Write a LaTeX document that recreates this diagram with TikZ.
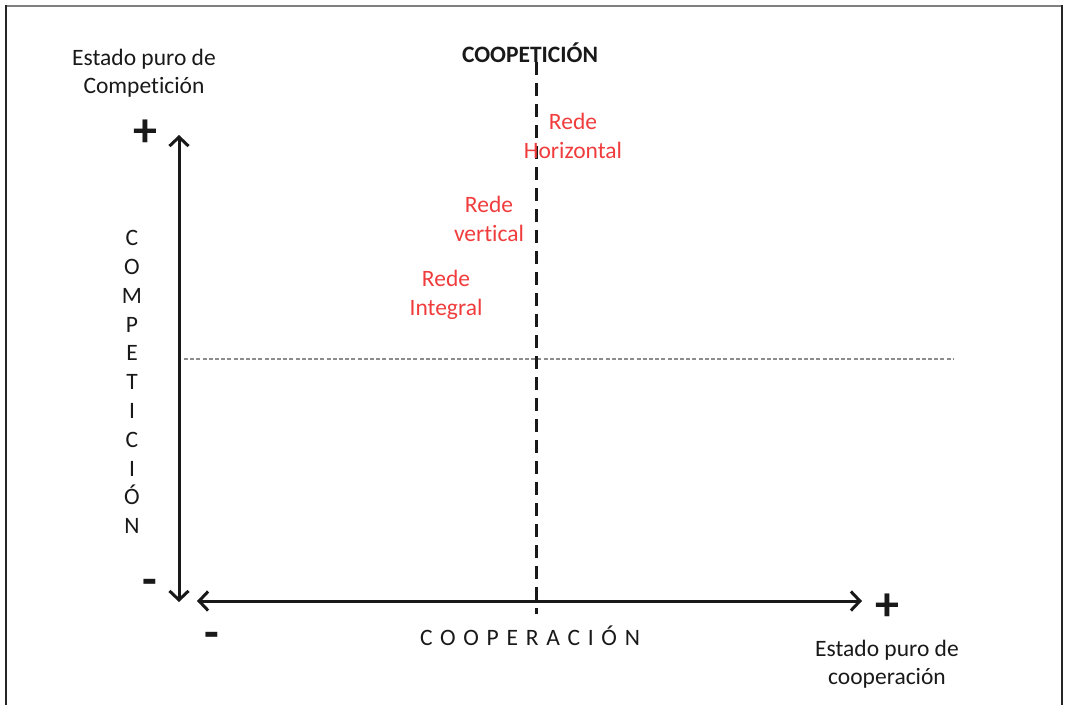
\documentclass[tikz,border=0pt]{standalone}
\usepackage{fontspec}
\setmainfont{Carlito}[Ligatures=NoCommon]
\usetikzlibrary{arrows.meta}
\definecolor{redtxt}{RGB}{240,60,60}
\definecolor{txt}{RGB}{25,25,25}
\tikzset{
  lbl/.style={align=center, text=txt, inner sep=0pt, font=\fontsize{23.5}{28.5}\selectfont},
  redlbl/.style={align=center, text=redtxt, inner sep=0pt, font=\fontsize{23.5}{28.5}\selectfont},
  sign/.style={text=txt, inner sep=0pt, font=\fontsize{48}{48}\selectfont\bfseries},
  axis/.style={draw=txt, line width=3pt, {Straight Barb[length=9pt,width=19pt,line width=3pt]}-{Straight Barb[length=9pt,width=19pt,line width=3pt]}},
}
\begin{document}
\begin{tikzpicture}[x=1pt,y=-1pt]
\useasboundingbox (0,0) rectangle (1065,704);
% frame
\draw[line width=2pt, draw=gray] (5,6) -- (1062,6);
\draw[line width=2pt, draw=black!85] (5.5,5) -- (5.5,710);
\draw[line width=2pt, draw=black!85] (1062,5) -- (1062,710);

% axes
\coordinate (vtop) at (179,135);
\coordinate (vbot) at (179,602);
\coordinate (hleft) at (197,601);
\coordinate (hright) at (862,601);
\coordinate (dtop) at (536,62);
\coordinate (dbot) at (536,614);
\coordinate (gleft) at (184,359);
\coordinate (gright) at (953,359);

\draw[draw=gray!90, line width=1.3pt, dash pattern=on 4pt off 2.2pt] (gleft) -- (gright);
\draw[draw=txt, line width=3pt, dash pattern=on 13pt off 8pt] (dtop) -- (dbot);
\draw[axis] (vtop) -- (vbot);
\draw[axis] (hleft) -- (hright);

% texts
\node[lbl] (estcomp) at (144,73) {Estado puro de\\Competición};
\node[sign] (plusv) at (145,133) {+};
\node[lbl, font=\fontsize{23.5}{28.5}\selectfont\bfseries] (coopet) at (530,53) {COOPETICIÓN};
\node[redlbl] (rh) at (573,136) {Rede\\Horizontal};
\node[redlbl] (rv) at (489,219) {Rede\\vertical};
\node[redlbl] (ri) at (446,295) {Rede\\Integral};
\node[lbl, font=\fontsize{23.5}{28.8}\selectfont] (vcomp) at (132,382) {C\\O\\M\\P\\E\\T\\I\\C\\I\\Ó\\N};
\node[sign] (minusv) at (150,587) {-};
\node[sign] (minush) at (212,640) {-};
\node[lbl, font=\fontsize{23.5}{28.5}\selectfont\addfontfeature{LetterSpace=33}] (coopera) at (530,636) {COOPERACIÓN};
\node[sign] (plush) at (887,607) {+};
\node[lbl] (estcoop) at (887,664) {Estado puro de\\cooperación};
\end{tikzpicture}
\end{document}
